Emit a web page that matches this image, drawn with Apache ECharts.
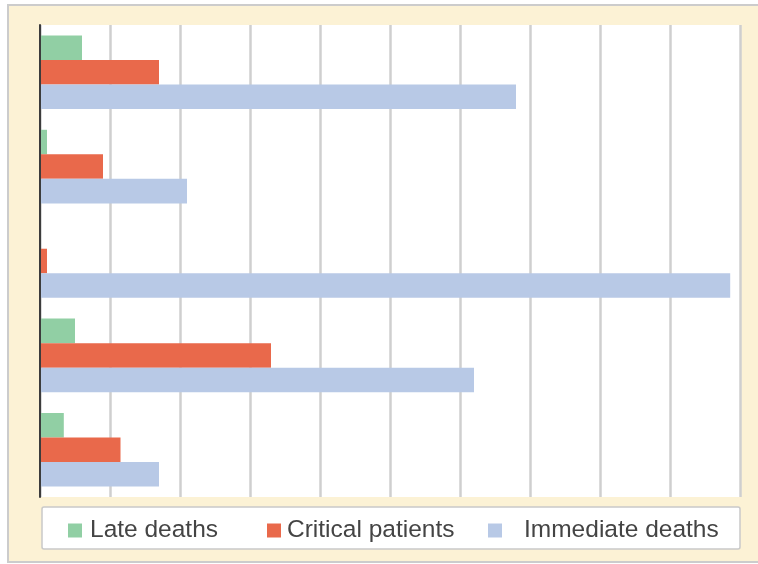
<!DOCTYPE html>
<html>
<head>
<meta charset="utf-8">
<script src="https://cdn.jsdelivr.net/npm/echarts@6/dist/echarts.min.js"></script>
<style>
  html, body { margin: 0; padding: 0; background: #ffffff; }
  #chart { width: 758px; height: 564px; }
</style>
</head>
<body>
<div id="chart"></div>
<script>
// Five groups, top to bottom
const categories = ['Group 1', 'Group 2', 'Group 3', 'Group 4', 'Group 5'];
const seriesNames = ['Late deaths', 'Critical patients', 'Immediate deaths'];
const lateDeaths = [6, 1, 0, 5, 3.4];
const criticalPatients = [17, 9, 1, 33, 11.5];
const immediateDeaths = [68, 21, 98.6, 62, 17];
const axisMax = 100;
const axisStep = 10;

const colors = ['#91cfa4', '#e9694b', '#b8c9e6'];
const font = "'Liberation Sans', Arial, sans-serif";

const chart = echarts.init(document.getElementById('chart'), null, { renderer: 'canvas' });

// One legend per series so each entry can sit at its own position
function legendAt(name, left, pad) {
  return {
    data: [name],
    left: left,
    top: 518,
    orient: 'horizontal',
    itemWidth: 14,
    itemHeight: 14,
    icon: 'rect',
    selectedMode: false,
    z: 10,
    padding: 0,
    textStyle: {
      fontFamily: font,
      fontSize: 24.5,
      color: '#444444',
      padding: [0, 0, 0, pad]
    }
  };
}

const values = [lateDeaths, criticalPatients, immediateDeaths];

chart.setOption({
  animation: false,
  color: colors,
  graphic: [
    {
      type: 'rect',
      z: -10,
      silent: true,
      shape: { x: 8, y: 5, width: 760, height: 557 },
      style: { fill: '#fcf2d5', stroke: '#cccccc', lineWidth: 2 }
    },
    {
      type: 'rect',
      z: 1,
      silent: true,
      shape: { x: 42, y: 507, width: 698, height: 42, r: 2 },
      style: { fill: '#ffffff', stroke: '#c9c9c9', lineWidth: 1.5 }
    }
  ],
  legend: [
    legendAt(seriesNames[0], 68, 3),
    legendAt(seriesNames[1], 267, 1),
    legendAt(seriesNames[2], 488, 17)
  ],
  grid: {
    left: 40,
    right: 18,
    top: 25,
    bottom: 67,
    show: true,
    backgroundColor: '#ffffff',
    borderWidth: 0
  },
  xAxis: {
    type: 'value',
    min: 0,
    max: axisMax,
    interval: axisStep,
    axisLabel: { show: false },
    axisTick: { show: false },
    axisLine: { show: false },
    splitLine: { show: true, lineStyle: { color: '#cfcfcf', width: 2.5 } }
  },
  yAxis: {
    type: 'category',
    data: categories,
    inverse: true,
    axisLabel: { show: false },
    axisTick: { show: false },
    axisLine: { show: true, lineStyle: { color: '#3c3c3c', width: 2 } },
    splitLine: { show: false },
    z: 5
  },
  series: seriesNames.map((name, i) => ({
    name: name,
    type: 'bar',
    data: values[i],
    barGap: '0%',
    barCategoryGap: '22%',
    itemStyle: { color: colors[i] }
  }))
});
</script>
</body>
</html>
